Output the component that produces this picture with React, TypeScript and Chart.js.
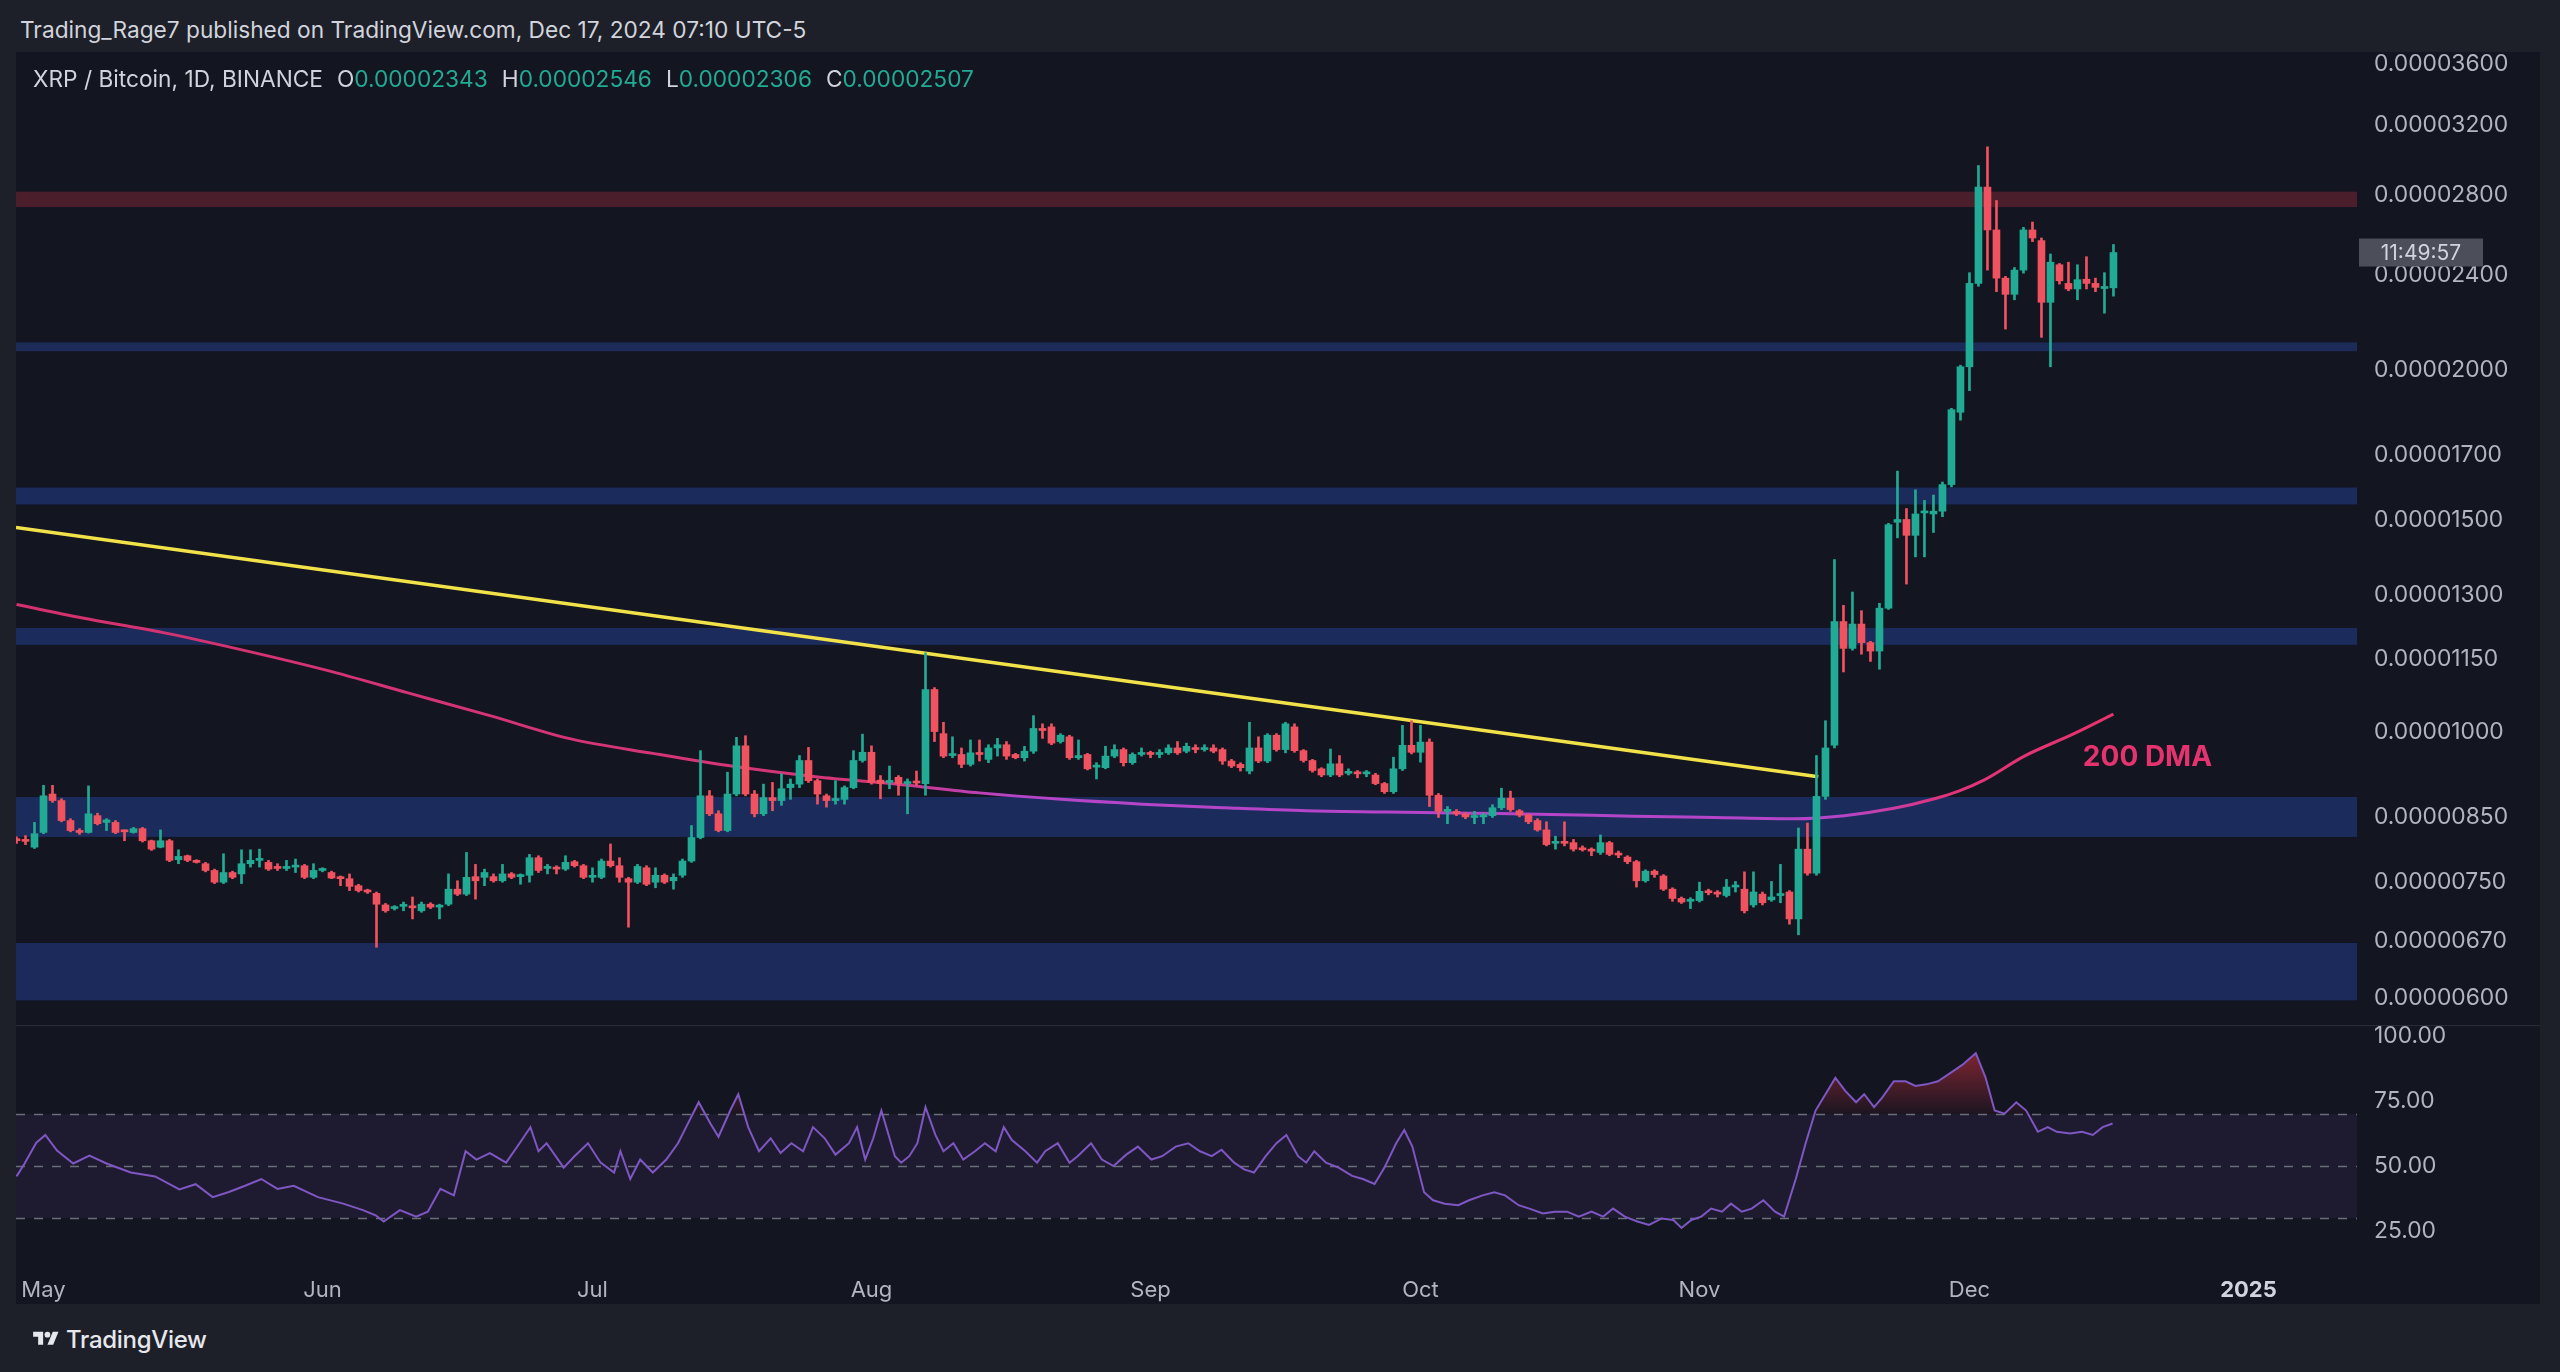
import React, { useEffect, useRef } from 'react';
import { Chart, registerables } from 'chart.js';

Chart.register(...registerables);

// ---------- DATA (prices in units of 0.000001 BTC) ----------
const UNIT = 1e-6;
const FIRST_DAY = -3; // day 0 = 1 May 2024

const opens = [
  8.14, 8.13, 8.02, 8.25, 8.88, 8.77, 8.44, 8.28, 8.25, 8.52,
  8.41, 8.41, 8.27, 8.25, 8.31, 8.12, 8.02, 8.12, 7.83, 7.89,
  7.82, 7.77, 7.67, 7.50, 7.64, 7.62, 7.77, 7.82, 7.79, 7.71,
  7.70, 7.72, 7.74, 7.57, 7.67, 7.64, 7.57, 7.55, 7.45, 7.38,
  7.34, 7.18, 7.13, 7.16, 7.16, 7.10, 7.19, 7.15, 7.19, 7.40,
  7.33, 7.58, 7.57, 7.58, 7.52, 7.62, 7.58, 7.60, 7.86, 7.70,
  7.72, 7.69, 7.80, 7.74, 7.57, 7.57, 7.81, 7.74, 7.55, 7.50,
  7.71, 7.50, 7.60, 7.52, 7.60, 7.81, 8.17, 8.85, 8.55, 8.28,
  8.88, 9.74, 8.88, 8.55, 8.82, 8.77, 8.99, 9.05, 9.47, 9.11,
  8.85, 8.77, 8.79, 8.99, 9.47, 9.62, 9.12, 9.08, 9.17, 9.06,
  9.09, 9.06, 10.85, 9.97, 9.56, 9.58, 9.40, 9.61, 9.49, 9.70,
  9.76, 9.58, 9.52, 9.64, 10.07, 10.10, 9.82, 9.91, 9.52, 9.58,
  9.35, 9.34, 9.55, 9.67, 9.43, 9.58, 9.61, 9.58, 9.61, 9.70,
  9.64, 9.70, 9.67, 9.70, 9.67, 9.46, 9.40, 9.28, 9.70, 9.46,
  9.94, 9.67, 10.10, 9.65, 9.47, 9.32, 9.21, 9.41, 9.24, 9.26,
  9.23, 9.21, 9.06, 8.92, 9.32, 9.75, 9.62, 9.81, 8.86, 8.59,
  8.59, 8.55, 8.49, 8.50, 8.52, 8.65, 8.81, 8.60, 8.53, 8.44,
  8.29, 8.08, 8.10, 8.09, 8.00, 7.98, 7.94, 8.09, 7.92, 7.87,
  7.80, 7.52, 7.66, 7.59, 7.40, 7.27, 7.23, 7.24, 7.37, 7.35,
  7.31, 7.43, 7.40, 7.18, 7.33, 7.25, 7.31, 7.36, 6.99, 7.99,
  7.63, 8.84, 9.75, 12.36, 11.74, 12.30, 11.87, 11.68, 12.68, 14.95,
  15.03, 14.58, 15.22, 15.19, 15.27, 16.07, 18.46, 20.14, 23.63, 28.42,
  26.18, 23.87, 23.14, 24.24, 26.18, 25.65, 22.79, 24.49, 23.63, 23.38,
  23.82, 23.63, 23.40, 23.43,
];

const highs = [
  8.18, 8.20, 8.41, 9.03, 9.03, 8.80, 8.47, 8.31, 9.02, 8.56,
  8.47, 8.44, 8.29, 8.33, 8.33, 8.13, 8.29, 8.14, 7.98, 7.90,
  7.83, 7.79, 7.69, 7.92, 7.66, 7.98, 7.98, 7.99, 7.82, 7.77,
  7.82, 7.84, 7.76, 7.77, 7.71, 7.66, 7.59, 7.62, 7.47, 7.40,
  7.36, 7.20, 7.17, 7.22, 7.29, 7.22, 7.21, 7.19, 7.62, 7.52,
  7.94, 7.76, 7.69, 7.62, 7.76, 7.64, 7.62, 7.91, 7.89, 7.76,
  7.74, 7.89, 7.82, 7.76, 7.71, 7.84, 8.07, 7.86, 7.57, 7.76,
  7.74, 7.71, 7.62, 7.62, 7.84, 8.36, 9.65, 8.94, 8.60, 9.26,
  9.90, 9.93, 8.94, 9.05, 9.08, 9.23, 9.14, 9.56, 9.71, 9.14,
  8.88, 9.11, 9.02, 9.65, 9.96, 9.74, 9.20, 9.37, 9.20, 9.14,
  9.28, 11.64, 10.89, 10.19, 9.91, 9.70, 9.85, 9.85, 9.76, 9.88,
  9.82, 9.60, 9.73, 10.32, 10.16, 10.16, 9.97, 9.94, 9.85, 9.60,
  9.43, 9.73, 9.76, 9.70, 9.61, 9.70, 9.64, 9.67, 9.76, 9.82,
  9.79, 9.76, 9.76, 9.76, 9.70, 9.49, 9.43, 10.19, 9.91, 9.97,
  9.97, 10.19, 10.16, 9.67, 9.49, 9.34, 9.68, 9.56, 9.32, 9.29,
  9.29, 9.24, 9.08, 9.53, 10.13, 10.22, 10.13, 9.87, 8.89, 8.67,
  8.62, 8.57, 8.59, 8.56, 8.70, 8.98, 8.93, 8.62, 8.55, 8.47,
  8.42, 8.19, 8.42, 8.14, 8.04, 8.01, 8.21, 8.11, 7.96, 7.89,
  7.82, 7.68, 7.68, 7.61, 7.42, 7.29, 7.28, 7.50, 7.40, 7.38,
  7.54, 7.51, 7.65, 7.65, 7.36, 7.51, 7.76, 7.38, 8.32, 8.40,
  9.56, 10.22, 13.92, 12.75, 13.08, 12.62, 11.90, 12.80, 14.92, 16.49,
  15.35, 15.91, 15.59, 15.75, 16.15, 18.60, 20.20, 24.12, 29.62, 30.70,
  27.70, 23.95, 24.36, 26.31, 26.58, 25.78, 25.00, 24.55, 24.61, 24.49,
  24.87, 23.87, 24.12, 25.46,
];

const lows = [
  8.08, 8.06, 8.00, 8.23, 8.74, 8.42, 8.26, 8.22, 8.24, 8.37,
  8.28, 8.23, 8.12, 8.24, 8.10, 7.97, 8.01, 7.80, 7.77, 7.80,
  7.78, 7.65, 7.48, 7.48, 7.55, 7.48, 7.72, 7.72, 7.67, 7.67,
  7.67, 7.64, 7.55, 7.55, 7.65, 7.55, 7.45, 7.38, 7.36, 7.34,
  6.62, 7.08, 7.11, 7.10, 6.99, 7.08, 7.13, 6.99, 7.17, 7.31,
  7.31, 7.26, 7.45, 7.50, 7.50, 7.55, 7.47, 7.50, 7.64, 7.62,
  7.62, 7.67, 7.72, 7.55, 7.50, 7.55, 7.72, 7.50, 6.88, 7.48,
  7.45, 7.42, 7.48, 7.40, 7.57, 7.79, 8.15, 8.52, 8.26, 8.26,
  8.85, 8.85, 8.50, 8.52, 8.60, 8.69, 8.79, 8.99, 9.08, 8.71,
  8.66, 8.71, 8.71, 8.97, 9.44, 9.05, 8.80, 8.97, 8.86, 8.55,
  9.03, 8.86, 9.82, 9.52, 9.52, 9.34, 9.37, 9.46, 9.43, 9.55,
  9.49, 9.50, 9.46, 9.60, 9.88, 9.76, 9.79, 9.49, 9.49, 9.30,
  9.14, 9.32, 9.52, 9.37, 9.40, 9.55, 9.52, 9.52, 9.58, 9.58,
  9.61, 9.61, 9.64, 9.61, 9.40, 9.34, 9.28, 9.23, 9.43, 9.43,
  9.64, 9.61, 9.62, 9.44, 9.26, 9.18, 9.18, 9.18, 9.21, 9.16,
  9.18, 9.04, 8.89, 8.89, 9.29, 9.59, 9.44, 8.67, 8.49, 8.39,
  8.52, 8.47, 8.39, 8.39, 8.49, 8.62, 8.59, 8.50, 8.39, 8.27,
  8.04, 7.99, 8.04, 7.96, 7.96, 7.89, 7.91, 7.89, 7.86, 7.77,
  7.43, 7.50, 7.57, 7.38, 7.23, 7.20, 7.13, 7.22, 7.32, 7.29,
  7.29, 7.36, 7.07, 7.15, 7.18, 7.23, 7.21, 6.92, 6.78, 7.60,
  7.60, 8.79, 9.70, 11.22, 11.70, 11.61, 11.45, 11.28, 12.65, 14.51,
  13.28, 13.99, 13.99, 14.66, 15.11, 16.00, 18.18, 19.24, 23.50, 24.24,
  23.26, 21.65, 22.90, 24.10, 25.60, 21.31, 20.14, 23.60, 23.30, 22.90,
  23.38, 23.26, 22.32, 23.06,
];

const closes = [
  8.12, 8.11, 8.23, 8.85, 8.77, 8.44, 8.28, 8.25, 8.55, 8.39,
  8.45, 8.25, 8.26, 8.31, 8.12, 7.99, 8.12, 7.82, 7.88, 7.82,
  7.79, 7.67, 7.50, 7.64, 7.57, 7.77, 7.82, 7.84, 7.69, 7.70,
  7.72, 7.74, 7.57, 7.67, 7.69, 7.56, 7.55, 7.44, 7.38, 7.36,
  7.19, 7.10, 7.15, 7.17, 7.14, 7.19, 7.15, 7.17, 7.40, 7.33,
  7.57, 7.52, 7.64, 7.52, 7.62, 7.57, 7.60, 7.86, 7.67, 7.72,
  7.69, 7.79, 7.74, 7.57, 7.60, 7.81, 7.74, 7.57, 7.50, 7.73,
  7.47, 7.60, 7.50, 7.57, 7.81, 8.17, 8.85, 8.55, 8.28, 8.88,
  9.74, 8.88, 8.55, 8.82, 8.77, 8.97, 9.05, 9.47, 9.11, 8.88,
  8.77, 8.80, 8.99, 9.47, 9.62, 9.08, 9.06, 9.11, 9.06, 9.09,
  9.07, 10.85, 10.01, 9.55, 9.58, 9.40, 9.61, 9.58, 9.70, 9.76,
  9.55, 9.52, 9.64, 10.07, 10.03, 9.79, 9.94, 9.52, 9.56, 9.32,
  9.38, 9.55, 9.67, 9.43, 9.58, 9.61, 9.58, 9.60, 9.70, 9.61,
  9.73, 9.67, 9.70, 9.64, 9.46, 9.37, 9.34, 9.70, 9.46, 9.94,
  9.67, 10.16, 9.65, 9.47, 9.29, 9.21, 9.41, 9.21, 9.26, 9.23,
  9.26, 9.06, 8.92, 9.32, 9.75, 9.62, 9.81, 8.86, 8.59, 8.62,
  8.55, 8.50, 8.52, 8.52, 8.65, 8.81, 8.62, 8.53, 8.42, 8.29,
  8.06, 8.10, 8.08, 7.99, 7.98, 7.96, 8.09, 7.91, 7.90, 7.80,
  7.52, 7.66, 7.61, 7.40, 7.27, 7.22, 7.25, 7.37, 7.35, 7.33,
  7.43, 7.45, 7.10, 7.36, 7.21, 7.29, 7.33, 6.99, 7.99, 7.63,
  8.84, 9.70, 12.36, 11.74, 12.30, 11.87, 11.68, 12.68, 14.88, 15.03,
  14.58, 15.19, 15.27, 15.27, 16.07, 18.55, 20.14, 23.63, 28.42, 26.18,
  23.87, 23.14, 24.24, 26.18, 25.78, 22.79, 24.61, 23.75, 23.38, 23.80,
  23.63, 23.45, 23.43, 25.07,
];

// 200-day moving average
const dmaDays = [-3.0, 4.2, 13.3, 22.4, 31.4, 40.5, 49.6, 58.6, 67.7, 76.8, 85.8, 94.9, 104, 113.1, 122.1, 131.2, 140.3, 149.3, 158.4, 167.5, 176.6, 185.6, 194.7, 200.1, 205.6, 210.1, 212.8, 215.6, 220.1, 225.5, 230];
const dmaValues = [12.77, 12.45, 12.10, 11.69, 11.26, 10.78, 10.32, 9.87, 9.60, 9.36, 9.18, 9.05, 8.90, 8.79, 8.71, 8.65, 8.60, 8.58, 8.56, 8.54, 8.51, 8.49, 8.47, 8.52, 8.64, 8.80, 8.93, 9.12, 9.55, 9.96, 10.35];

// descending trend line
const trendDays = [-3.06, 197.2];
const trendValues = [14.8, 9.18];

// RSI
const rsiDays = [
  -3.0, -2.1, -0.8, 0.2, 1.5, 3.3, 5.1, 7.0, 9.7, 12.4,
  15.1, 16.9, 18.8, 20.6, 22.4, 24.2, 26.0, 27.8, 30.5, 33.3,
  35.5, 36.9, 37.8, 39.6, 41.4, 42.7, 44.1, 45.6, 46.9, 48.1,
  49.6, 51.4, 52.9, 54.1, 55.0, 55.9, 57.8, 59.0, 60.5, 61.9,
  63.4, 64.1, 65.2, 66.3, 67.7, 69.2, 70.5, 71.4, 72.8, 74.1,
  75.0, 76.3, 77.2, 78.3, 79.5, 80.8, 81.9, 83.1, 84.4, 85.5,
  86.8, 88.0, 89.5, 90.4, 91.3, 92.2, 93.1, 94.6, 95.3, 96.2,
  97.1, 98.0, 99.1, 100.0, 101.1, 102.2, 103.5, 104.6, 105.8, 106.7,
  107.6, 109.1, 110.4, 111.3, 112.7, 114.0, 114.9, 116.4, 117.6, 118.9,
  120.3, 121.6, 123.1, 124.3, 125.8, 127.2, 128.5, 129.8, 130.9, 132.3,
  133.4, 134.5, 135.8, 137.0, 138.1, 139.4, 140.3, 141.2, 142.5, 143.9,
  145.4, 146.6, 147.9, 149.0, 150.3, 151.2, 152.1, 153.4, 154.4, 155.7,
  157.2, 158.4, 159.9, 161.2, 162.4, 163.9, 165.1, 166.6, 167.9, 169.3,
  170.6, 172.0, 173.3, 174.4, 175.7, 177.1, 178.4, 179.8, 181.1, 182.0,
  183.1, 184.2, 185.3, 186.5, 187.5, 188.7, 189.8, 191.1, 192.4, 193.4,
  194.7, 195.8, 196.9, 198.0, 199.1, 200.2, 201.4, 202.3, 203.4, 204.3,
  205.6, 206.9, 208.0, 209.2, 210.5, 211.9, 213.2, 214.7, 215.8, 216.8,
  217.9, 219.2, 220.3, 221.6, 222.7, 223.7, 225.2, 226.5, 227.7, 228.8,
  229.9,
];
const rsiValues = [
  46, 51, 59, 62, 56, 51, 54, 51, 47.5, 46,
  41, 43, 38, 40, 42.4, 45, 41.2, 42.4, 38, 35.5,
  33, 31, 28.6, 33, 30.5, 32.4, 41.2, 38.7, 55.7, 52.5,
  55, 51.3, 58.8, 65, 55.7, 58.8, 49.4, 53.8, 58.8, 51.3,
  47.5, 55.7, 45, 52.5, 47.5, 52.5, 58.8, 65, 74.6, 66.4,
  61.3, 71.4, 77.7, 65, 55.7, 60.7, 55, 58.8, 55.7, 65,
  60.7, 54.4, 58.8, 65, 52.5, 60.7, 71.4, 53.8, 51.3, 53.8,
  58.8, 72.7, 62, 55.7, 58.8, 52.5, 55.7, 58.8, 55.7, 65,
  60, 55.7, 51.3, 55.7, 58.8, 51.3, 53.8, 58.8, 52.5, 50,
  54.4, 57.5, 52.5, 53.8, 57.5, 58.8, 55.7, 53.8, 56.3, 51.3,
  48.7, 47.5, 53.8, 58.8, 62, 53.8, 51.3, 55.7, 51.3, 49.4,
  46.2, 45, 43.1, 49.4, 58.8, 63.9, 57.5, 39.9, 36.8, 35.5,
  34.9, 36.8, 38.7, 39.9, 38.7, 34.9, 33.6, 31.7, 32.4, 32.4,
  30.5, 32.4, 30.5, 33.6, 30.5, 28.6, 27.3, 29.8, 29.2, 26.1,
  29.2, 30.5, 33.6, 32.4, 35.5, 32.4, 33.6, 36.8, 32.4, 30.5,
  45, 58.8, 71.4, 77.7, 84, 79, 74.6, 77.7, 72.7, 76.4,
  82.7, 82.7, 80.9, 81.5, 82.7, 85.9, 89, 93.5, 84, 71.4,
  70.2, 74.6, 71.4, 63.2, 65, 63.2, 62.6, 63.2, 62, 65,
  66.4,
];

// horizontal support / resistance zones
const zoneLows = [27.35, 20.75, 15.47, 11.82, 8.18, 5.98];
const zoneHighs = [28.17, 21.1, 15.98, 12.21, 8.83, 6.675];
const zoneColors = ['#4a1e2b', '#1c2b58', '#1b2c5c', '#1b2c5c', '#1b2c5c', '#1b2a5a'];

const priceTicks = [6, 6.7, 7.5, 8.5, 10, 11.5, 13, 15, 17, 20, 24, 28, 32, 36];
const rsiTicks = [100, 75, 50, 25];
const rsiLevels = [70, 50, 30];
const monthDays = [0, 31, 61, 92, 123, 153, 184, 214, 245];
const monthLabels = ['May', 'Jun', 'Jul', 'Aug', 'Sep', 'Oct', 'Nov', 'Dec', '2025'];

const dmaColorDays = [-3, 92, 108, 200, 211, 231];
const dmaColorStops = ['#d3326e', '#d4367a', '#b445c8', '#b445c8', '#e0347a', '#e6336b'];

const dmaLabel = { text: '200 DMA', day: 226.6, value: 9.52 };
const countdownText = '11:49:57';

// ---------- STYLE ----------
const X_MIN = -3.056;
const X_MAX = 257.06;
const PRICE_MIN = 5.693;
const PRICE_MAX = 36.82;
const RSI_MIN = 18.4;
const RSI_MAX = 104.0;
const AXIS_W = 183;
const FONT = "Inter, 'Noto Sans', sans-serif";
const UP = '#22ab94';
const DOWN = '#f0525f';
const TEXT = '#b2b5be';
const OUTER = '#1e2029';
const PANEL = '#131520';
const AXIS_FONT = 22.8;
const AXIS_PAD = 9;

const days = opens.map((_, i) => FIRST_DAY + i);
const candleColors = opens.map((o, i) => (closes[i] >= o ? UP : DOWN));

const yAxisFit = (s: any) => {
  s.width = AXIS_W;
  s.paddingTop = 0;
  s.paddingBottom = 0;
};

const zonesPlugin = {
  id: 'zones',
  beforeDatasetsDraw(chart: any) {
    const { ctx, chartArea: a, scales } = chart;
    const y = scales.y;
    ctx.save();
    zoneLows.forEach((lo, i) => {
      const top = y.getPixelForValue(zoneHighs[i]);
      const bot = y.getPixelForValue(lo);
      ctx.fillStyle = zoneColors[i];
      ctx.fillRect(a.left, top, a.right - a.left, bot - top);
    });
    ctx.restore();
  },
};

const mainLabelsPlugin = {
  id: 'mainLabels',
  afterDatasetsDraw(chart: any) {
    const { ctx, scales } = chart;
    ctx.save();
    ctx.font = `bold 28px ${FONT}`;
    ctx.fillStyle = '#e4336f';
    ctx.textAlign = 'left';
    ctx.textBaseline = 'middle';
    ctx.fillText(dmaLabel.text, scales.x.getPixelForValue(dmaLabel.day), scales.y.getPixelForValue(dmaLabel.value));
    ctx.restore();
  },
  afterDraw(chart: any) {
    const { ctx, chartArea: a, scales } = chart;
    const yc = scales.y.getPixelForValue(closes[closes.length - 1]);
    ctx.save();
    ctx.fillStyle = '#4c4f5a';
    ctx.fillRect(a.right + 2, yc - 14, 124, 28);
    ctx.fillStyle = '#d1d4dc';
    ctx.font = `21px ${FONT}`;
    ctx.textAlign = 'center';
    ctx.textBaseline = 'middle';
    ctx.fillText(countdownText, a.right + 64, yc + 1);
    ctx.restore();
  },
};

const rsiBandPlugin = {
  id: 'rsiBand',
  beforeDatasetsDraw(chart: any) {
    const { ctx, chartArea: a, scales } = chart;
    const y = scales.y;
    const top = y.getPixelForValue(rsiLevels[0]);
    const bot = y.getPixelForValue(rsiLevels[2]);
    ctx.save();
    ctx.fillStyle = 'rgba(126,87,194,0.10)';
    ctx.fillRect(a.left, top, a.right - a.left, bot - top);
    ctx.strokeStyle = '#6a6d78';
    ctx.lineWidth = 1.5;
    ctx.setLineDash([9, 9]);
    rsiLevels.forEach((lv) => {
      const py = Math.round(y.getPixelForValue(lv)) + 0.5;
      ctx.beginPath();
      ctx.moveTo(a.left, py);
      ctx.lineTo(a.right, py);
      ctx.stroke();
    });
    ctx.restore();
  },
};

function mainConfig(): any {
  return {
    type: 'bar',
    data: {
      datasets: [
        {
          type: 'bar',
          label: 'bodies',
          order: 0,
          data: days.map((d, i) => ({ x: d, y: [opens[i], closes[i]] })),
          backgroundColor: candleColors,
          borderWidth: 0,
          barThickness: 7,
          minBarLength: 2,
          grouped: false,
        },
        {
          type: 'bar',
          label: 'wicks',
          order: 1,
          data: days.map((d, i) => ({ x: d, y: [lows[i], highs[i]] })),
          backgroundColor: candleColors,
          borderWidth: 0,
          barThickness: 2,
          grouped: false,
        },
        {
          type: 'line',
          label: '200 DMA',
          order: 2,
          data: dmaDays.map((d, i) => ({ x: d, y: dmaValues[i] })),
          borderColor: (c: any) => {
            const chart = c.chart;
            const xs = chart.scales && chart.scales.x;
            if (!chart.chartArea || !xs) return dmaColorStops[0];
            const x0 = xs.getPixelForValue(X_MIN);
            const x1 = xs.getPixelForValue(X_MAX);
            const g = chart.ctx.createLinearGradient(x0, 0, x1, 0);
            dmaColorDays.forEach((d, i) => {
              const f = Math.min(1, Math.max(0, (d - X_MIN) / (X_MAX - X_MIN)));
              g.addColorStop(f, dmaColorStops[i]);
            });
            return g;
          },
          borderWidth: 3,
          pointRadius: 0,
          tension: 0.4,
          cubicInterpolationMode: 'monotone',
          fill: false,
        },
        {
          type: 'line',
          label: 'trend',
          order: 3,
          data: trendDays.map((d, i) => ({ x: d, y: trendValues[i] })),
          borderColor: '#f2e24a',
          borderWidth: 3.5,
          pointRadius: 0,
          fill: false,
        },
      ],
    },
    options: {
      responsive: false,
      animation: false,
      devicePixelRatio: 1,
      events: [],
      layout: { padding: 0 },
      plugins: { legend: { display: false }, tooltip: { enabled: false } },
      scales: {
        x: { type: 'linear', min: X_MIN, max: X_MAX, display: false, offset: false },
        y: {
          type: 'logarithmic',
          position: 'right',
          min: PRICE_MIN,
          max: PRICE_MAX,
          grid: { display: false },
          border: { display: false },
          afterBuildTicks: (s: any) => {
            s.ticks = priceTicks.map((v) => ({ value: v }));
          },
          afterFit: yAxisFit,
          ticks: {
            autoSkip: false,
            padding: AXIS_PAD,
            color: TEXT,
            font: { family: FONT, size: AXIS_FONT },
            callback: (v: any) => (Number(v) * UNIT).toFixed(8),
          },
        },
      },
    },
    plugins: [zonesPlugin, mainLabelsPlugin],
  };
}

function rsiConfig(): any {
  const rsiPoints = rsiDays.map((d, i) => ({ x: d, y: rsiValues[i] }));
  return {
    type: 'line',
    data: {
      datasets: [
        {
          label: 'RSI',
          order: 0,
          data: rsiPoints,
          borderColor: '#7e57c2',
          borderWidth: 2,
          pointRadius: 0,
          tension: 0,
          fill: { target: { value: 70 }, below: 'rgba(0,0,0,0)' },
          backgroundColor: (c: any) => {
            const chart = c.chart;
            const y = chart.scales && chart.scales.y;
            if (!chart.chartArea || !y) return 'rgba(242,54,69,0.3)';
            const g = chart.ctx.createLinearGradient(0, y.getPixelForValue(100), 0, y.getPixelForValue(70));
            g.addColorStop(0, 'rgba(242,54,69,0.6)');
            g.addColorStop(1, 'rgba(242,54,69,0.04)');
            return g;
          },
        },
        {
          label: 'oversold',
          order: 1,
          data: rsiPoints,
          borderColor: 'rgba(0,0,0,0)',
          borderWidth: 1,
          pointRadius: 0,
          tension: 0,
          fill: { target: { value: 30 }, above: 'rgba(0,0,0,0)' },
          backgroundColor: (c: any) => {
            const chart = c.chart;
            const y = chart.scales && chart.scales.y;
            if (!chart.chartArea || !y) return 'rgba(34,171,148,0.3)';
            const g = chart.ctx.createLinearGradient(0, y.getPixelForValue(30), 0, y.getPixelForValue(0));
            g.addColorStop(0, 'rgba(34,171,148,0.04)');
            g.addColorStop(1, 'rgba(34,171,148,0.6)');
            return g;
          },
        },
      ],
    },
    options: {
      responsive: false,
      animation: false,
      devicePixelRatio: 1,
      events: [],
      layout: { padding: 0 },
      plugins: { legend: { display: false }, tooltip: { enabled: false } },
      scales: {
        x: {
          type: 'linear',
          position: 'bottom',
          min: X_MIN,
          max: X_MAX,
          offset: false,
          grid: { display: false },
          border: { display: false },
          afterBuildTicks: (s: any) => {
            s.ticks = monthDays.map((v) => ({ value: v }));
          },
          afterFit: (s: any) => {
            s.height = 56;
            s.paddingLeft = 0;
            s.paddingRight = 0;
          },
          ticks: {
            autoSkip: false,
            maxRotation: 0,
            minRotation: 0,
            padding: 21,
            color: (c: any) => (c.tick && c.tick.value === 245 ? '#d1d4dc' : TEXT),
            font: (c: any) => ({
              family: FONT,
              size: 22,
              weight: c.tick && c.tick.value === 245 ? 'bold' : 'normal',
            }),
            callback: (v: any) => {
              const k = monthDays.indexOf(Number(v));
              return k >= 0 ? monthLabels[k] : '';
            },
          },
        },
        y: {
          type: 'linear',
          position: 'right',
          min: RSI_MIN,
          max: RSI_MAX,
          grid: { display: false },
          border: { display: false },
          afterBuildTicks: (s: any) => {
            s.ticks = rsiTicks.map((v) => ({ value: v }));
          },
          afterFit: yAxisFit,
          ticks: {
            autoSkip: false,
            padding: AXIS_PAD,
            color: TEXT,
            font: { family: FONT, size: AXIS_FONT },
            callback: (v: any) => Number(v).toFixed(2),
          },
        },
      },
    },
    plugins: [rsiBandPlugin],
  };
}

function TvLogo() {
  return (
    <svg width={26} height={20} viewBox="0 0 36 28" style={{ display: 'block' }}>
      <path d="M14 22H7V11H0V4h14v18zM28 22h-8l7.5-18h8L28 22z" fill="#e6e8ee" />
      <circle cx="20" cy="8" r="4" fill="#e6e8ee" />
    </svg>
  );
}

export default function App() {
  const mainRef = useRef<HTMLCanvasElement>(null);
  const rsiRef = useRef<HTMLCanvasElement>(null);

  useEffect(() => {
    const main = new Chart(mainRef.current as HTMLCanvasElement, mainConfig());
    const rsi = new Chart(rsiRef.current as HTMLCanvasElement, rsiConfig());
    return () => {
      main.destroy();
      rsi.destroy();
    };
  }, []);

  const legendGroup = (k: string, v: string) => (
    <span style={{ marginLeft: 14 }}>
      <span style={{ color: '#d1d4dc' }}>{k}</span>
      <span style={{ color: UP }}>{v}</span>
    </span>
  );

  return (
    <div
      style={{
        position: 'absolute',
        left: 0,
        top: 0,
        width: 2560,
        height: 1372,
        background: OUTER,
        overflow: 'hidden',
        fontFamily: FONT,
      }}
    >
      <div
        style={{
          position: 'absolute',
          left: 20,
          top: 16,
          fontSize: 22.7,
          lineHeight: '28px',
          color: '#d1d4dc',
          whiteSpace: 'nowrap',
        }}
      >
        Trading_Rage7 published on TradingView.com, Dec 17, 2024 07:10 UTC-5
      </div>

      <div style={{ position: 'absolute', left: 16, top: 52, width: 2524, height: 1252, background: PANEL }} />

      <canvas
        ref={mainRef}
        width={2524}
        height={974}
        style={{ position: 'absolute', left: 16, top: 52, width: 2524, height: 974 }}
      />
      <div style={{ position: 'absolute', left: 16, top: 1025, width: 2524, height: 1, background: '#2a2d38' }} />
      <canvas
        ref={rsiRef}
        width={2524}
        height={278}
        style={{ position: 'absolute', left: 16, top: 1026, width: 2524, height: 278 }}
      />

      <div
        style={{
          position: 'absolute',
          left: 33,
          top: 65,
          fontSize: 22.7,
          lineHeight: '28px',
          color: '#d1d4dc',
          whiteSpace: 'nowrap',
        }}
      >
        <span>XRP / Bitcoin, 1D, BINANCE</span>
        {legendGroup('O', '0.00002343')}
        {legendGroup('H', '0.00002546')}
        {legendGroup('L', '0.00002306')}
        {legendGroup('C', '0.00002507')}
      </div>

      <div
        style={{
          position: 'absolute',
          left: 33,
          top: 1323,
          height: 32,
          display: 'flex',
          alignItems: 'center',
          gap: 7,
          color: '#e6e8ee',
        }}
      >
        <TvLogo />
        <span style={{ fontSize: 24, fontWeight: 500, letterSpacing: -0.3 }}>TradingView</span>
      </div>
    </div>
  );
}
